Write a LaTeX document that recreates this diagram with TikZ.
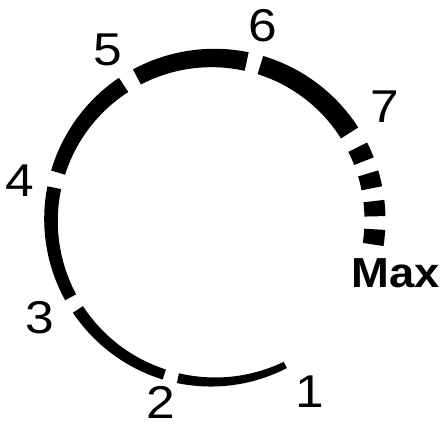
\documentclass[tikz,border=0pt]{standalone}
\usepackage{fontspec}
\setmainfont{Liberation Sans}
\newfontfamily\lblfont[FakeStretch=1.12]{Liberation Sans}
\newfontfamily\maxfont[FakeStretch=1.08]{Liberation Sans Bold}
\newcommand\dialseg[4]{% start angle, end angle, thickness at start, thickness at end
  \fill[black] plot[domain=#1:#2,samples=40,variable=\t]
    ({(162+(#3+(#4-#3)*(\t-#1)/(#2-#1))/2)*cos(\t)},{(162+(#3+(#4-#3)*(\t-#1)/(#2-#1))/2)*sin(\t)})
    -- plot[domain=#2:#1,samples=40,variable=\t]
    ({(162-(#3+(#4-#3)*(\t-#1)/(#2-#1))/2)*cos(\t)},{(162-(#3+(#4-#3)*(\t-#1)/(#2-#1))/2)*sin(\t)})
    -- cycle;}
\begin{document}
\begin{tikzpicture}[x=1pt,y=1pt,
  lbl/.style={inner sep=0pt,font=\lblfont\fontsize{46}{46}\selectfont},
  maxlbl/.style={inner sep=0pt,font=\maxfont\fontsize{42}{42}\selectfont}]
\useasboundingbox (0,0) rectangle (442,427);
\begin{scope}[shift={(213,207)}]
  \dialseg{-102.5}{-63.5}{10}{7}
  \dialseg{-146.5}{-107.5}{12}{10.5}
  \dialseg{168.5}{208.5}{14}{12.5}
  \dialseg{123.5}{163}{17}{14.5}
  \dialseg{78}{118}{19}{17}
  \dialseg{32.5}{73}{20.5}{19}
  \dialseg{21.3}{26.7}{21}{21}
  \dialseg{11.3}{16.7}{21}{21}
  \dialseg{1.3}{6.7}{21}{21}
  \dialseg{-8.7}{-3.3}{21}{21}
\end{scope}
\node[lbl] (l1) at (310,35) {1};
\node[lbl] (l2) at (161,25) {2};
\node[lbl] (l3) at (40,109) {3};
\node[lbl] (l4) at (20,246) {4};
\node[lbl] (l5) at (108,377.5) {5};
\node[lbl] (l6) at (263,401.7) {6};
\node[lbl] (l7) at (385,320) {7};
\node[maxlbl] (lmax) at (396,154) {Max};
\end{tikzpicture}
\end{document}
